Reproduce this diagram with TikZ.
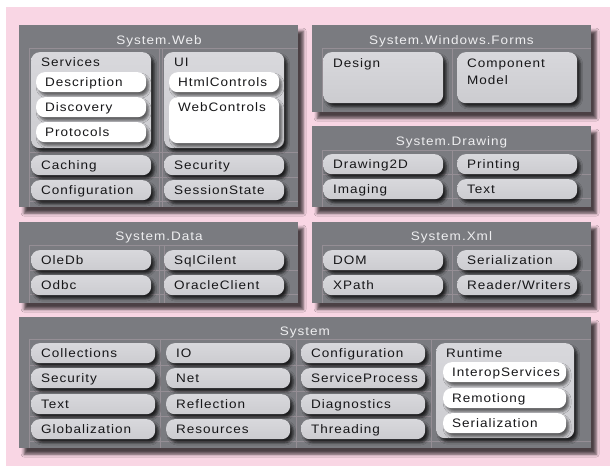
\documentclass[tikz,border=0pt]{standalone}
\usepackage{fontspec}
\setmainfont{Liberation Sans}[FakeStretch=1.1,LetterSpace=8]
\usetikzlibrary{shadows.blur}
\definecolor{pinkbg}{RGB}{249,214,228}
\definecolor{panelc}{RGB}{122,123,128}
\definecolor{lboxc}{RGB}{204,204,208}
\definecolor{lboxtop}{RGB}{216,216,220}
\definecolor{txtc}{RGB}{22,22,24}
\definecolor{titlec}{RGB}{238,238,240}
\newcommand\lbx[5]{%
  \node[lightbox, minimum width=#4pt, minimum height=20pt, anchor=north west] (#1) at (#2,#3) {};
  \node[lbl, anchor=base west] at ([xshift=10pt,yshift=-4.7pt]#1.west) {#5};}
\newcommand\wbx[5]{%
  \node[whitebox, minimum width=#4pt, minimum height=20pt, anchor=north west] (#1) at (#2,#3) {};
  \node[lbl, anchor=base west] at ([xshift=9pt,yshift=-4.7pt]#1.west) {#5};}
\begin{document}
\begin{tikzpicture}[x=1pt,y=-1pt,
  panelbox/.style={fill=panelc, blur shadow={shadow xshift=5pt, shadow yshift=-6pt, shadow blur radius=3pt, shadow opacity=70}},
  lightbox/.style={rounded corners=8.5pt, top color=lboxtop, bottom color=lboxc, inner sep=0pt,
     blur shadow={shadow xshift=3pt, shadow yshift=-3.5pt, shadow blur radius=2.5pt, shadow opacity=75}},
  whitebox/.style={rounded corners=8.5pt, fill=white, inner sep=0pt,
     blur shadow={shadow xshift=2.5pt, shadow yshift=-3.5pt, shadow blur radius=2.5pt, shadow opacity=55}},
  lbl/.style={inner sep=0pt, text=txtc, font=\fontsize{12.3pt}{14pt}\selectfont},
  ttl/.style={inner sep=0pt, text=titlec, font=\fontsize{12.3pt}{14pt}\selectfont, anchor=base},
  guide/.style={draw=pinkbg, opacity=0.22, line width=0.5pt}]
\useasboundingbox (0,0) rectangle (610,466);
\fill[white] (0,0) rectangle (610,466);
\fill[pinkbg] (6,7) rectangle (610,466);

% ---------- System.Web ----------
\node[panelbox, minimum width=279pt, minimum height=182pt, inner sep=0pt, anchor=north west] (web) at (19,25) {};
\node[ttl] (webt) at (159,44.5) {System.Web};
\draw[guide] (29,48) -- (298,48) (29,48) -- (29,207) (159,48) -- (159,207) (162,48) -- (162,207)
  (29,152) -- (298,152) (29,177) -- (298,177) (29,201) -- (298,201);
\node[lightbox, minimum width=120pt, minimum height=96pt, anchor=north west] (services) at (31,52) {};
\node[lbl, anchor=base west] at (41,66.5) {Services};
\wbx{desc}{36}{72}{110}{Description}
\wbx{disc}{36}{97}{110}{Discovery}
\wbx{prot}{36}{122}{110}{Protocols}
\node[lightbox, minimum width=120pt, minimum height=96pt, anchor=north west] (ui) at (164,52) {};
\node[lbl, anchor=base west] at (174,66.5) {UI};
\wbx{html}{169}{72}{110}{HtmlControls}
\node[whitebox, minimum width=110pt, minimum height=46pt, anchor=north west] (webc) at (169,97) {};
\node[lbl, anchor=base west] at (178,111.5) {WebControls};
\lbx{caching}{31}{155}{120}{Caching}
\lbx{wconf}{31}{180}{120}{Configuration}
\lbx{wsec}{164}{155}{120}{Security}
\lbx{sess}{164}{180}{120}{SessionState}

% ---------- System.Windows.Forms ----------
\node[panelbox, minimum width=279pt, minimum height=87pt, inner sep=0pt, anchor=north west] (forms) at (312,25) {};
\node[ttl] (formst) at (451.5,44.5) {System.Windows.Forms};
\draw[guide] (322,48) -- (591,48) (322,48) -- (322,112) (452,48) -- (452,112);
\node[lightbox, minimum width=120pt, minimum height=51pt, anchor=north west] (design) at (323,52) {};
\node[lbl, anchor=base west] at (333,67.5) {Design};
\node[lightbox, minimum width=120pt, minimum height=51pt, anchor=north west] (compm) at (457,52) {};
\node[lbl, anchor=base west] at (467,67.5) {Component};
\node[lbl, anchor=base west] at (467,84.5) {Model};

% ---------- System.Drawing ----------
\node[panelbox, minimum width=279pt, minimum height=81pt, inner sep=0pt, anchor=north west] (drawing) at (312,126) {};
\node[ttl] (drawingt) at (451.5,145.5) {System.Drawing};
\draw[guide] (322,150) -- (591,150) (322,150) -- (322,207) (452,150) -- (452,207) (322,174) -- (591,174) (322,198) -- (591,198);
\lbx{d2d}{323}{154}{120}{Drawing2D}
\lbx{imaging}{323}{179}{120}{Imaging}
\lbx{printing}{457}{154}{120}{Printing}
\lbx{dtext}{457}{179}{120}{Text}

% ---------- System.Data ----------
\node[panelbox, minimum width=279pt, minimum height=81pt, inner sep=0pt, anchor=north west] (data) at (19,222) {};
\node[ttl] (datat) at (159,240.5) {System.Data};
\draw[guide] (29,245) -- (298,245) (29,245) -- (29,303) (159,245) -- (159,303) (164,245) -- (164,303) (29,270) -- (298,270) (29,294) -- (298,294);
\lbx{oledb}{31}{250}{120}{OleDb}
\lbx{odbc}{31}{275}{120}{Odbc}
\lbx{sqlc}{164}{250}{120}{SqlCilent}
\lbx{oracle}{164}{275}{120}{OracleClient}

% ---------- System.Xml ----------
\node[panelbox, minimum width=279pt, minimum height=81pt, inner sep=0pt, anchor=north west] (xml) at (312,222) {};
\node[ttl] (xmlt) at (451.5,240.5) {System.Xml};
\draw[guide] (322,245) -- (591,245) (322,245) -- (322,303) (452,245) -- (452,303) (322,270) -- (591,270) (322,294) -- (591,294);
\lbx{dom}{323}{250}{120}{DOM}
\lbx{xpath}{323}{275}{120}{XPath}
\lbx{xser}{457}{250}{120}{Serialization}
\lbx{rw}{457}{275}{120}{Reader/Writers}

% ---------- System ----------
\node[panelbox, minimum width=572pt, minimum height=131pt, inner sep=0pt, anchor=north west] (sys) at (19,317) {};
\node[ttl] (syst) at (305,335.5) {System};
\draw[guide] (29,339) -- (591,339) (29,339) -- (29,448) (160,339) -- (160,448) (296,339) -- (296,448) (431,339) -- (431,448)
  (29,365) -- (431,365) (29,391) -- (431,391) (29,416) -- (431,416) (29,441) -- (591,441);
\lbx{coll}{31}{343}{124}{Collections}
\lbx{ssec}{31}{368}{124}{Security}
\lbx{stext}{31}{394}{124}{Text}
\lbx{glob}{31}{419}{124}{Globalization}
\lbx{io}{166}{343}{124}{IO}
\lbx{net}{166}{368}{124}{Net}
\lbx{refl}{166}{394}{124}{Reflection}
\lbx{res}{166}{419}{124}{Resources}
\lbx{sconf}{301}{343}{124}{Configuration}
\lbx{sproc}{301}{368}{124}{ServiceProcess}
\lbx{diag}{301}{394}{124}{Diagnostics}
\lbx{thr}{301}{419}{124}{Threading}
\node[lightbox, minimum width=138pt, minimum height=95pt, anchor=north west] (runtime) at (436,343) {};
\node[lbl, anchor=base west] at (446,357.5) {Runtime};
\wbx{interop}{443}{362}{123}{InteropServices}
\wbx{remot}{443}{388}{123}{Remotiong}
\wbx{rser}{443}{413}{123}{Serialization}
\end{tikzpicture}
\end{document}
